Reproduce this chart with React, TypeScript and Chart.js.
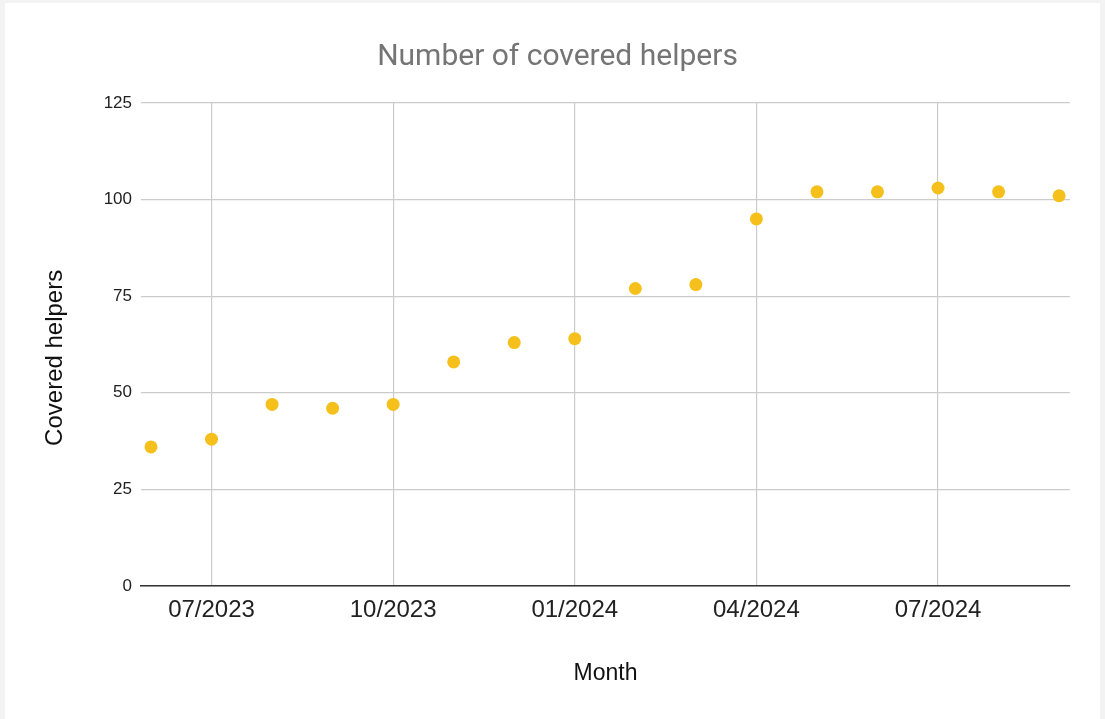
import React, { useEffect, useRef } from "react";
import { Chart, registerables } from "chart.js";

Chart.register(...registerables);

const months = [
  "06/2023", "07/2023", "08/2023", "09/2023", "10/2023", "11/2023", "12/2023", "01/2024",
  "02/2024", "03/2024", "04/2024", "05/2024", "06/2024", "07/2024", "08/2024", "09/2024",
];
const coveredHelpers = [36, 38, 47, 46, 47, 58, 63, 64, 77, 78, 95, 102, 102, 103, 102, 101];
const xTickLabels = ["07/2023", "10/2023", "01/2024", "04/2024", "07/2024"];
const yTicks = [0, 25, 50, 75, 100, 125];

export default function App() {
  const ref = useRef<HTMLCanvasElement>(null);

  useEffect(() => {
    if (!ref.current) return;
    const points = coveredHelpers.map((v, i) => ({ x: i, y: v }));
    const tickIdx = xTickLabels.map((l) => months.indexOf(l));
    const chart = new Chart(ref.current, {
      type: "scatter",
      data: {
        datasets: [
          {
            label: "Covered helpers",
            data: points,
            backgroundColor: "#f6c01c",
            borderColor: "#f6c01c",
            pointRadius: 6.5,
            pointHoverRadius: 6.5,
            borderWidth: 0,
          },
        ],
      },
      options: {
        animation: false,
        responsive: false,
        layout: { padding: { left: 40, right: 30, top: 0, bottom: 0 } },
        plugins: {
          legend: { display: false },
          tooltip: { enabled: false },
          title: {
            display: true,
            text: "Number of covered helpers",
            color: "#757575",
            font: { family: "Roboto", size: 30, weight: "normal" },
            padding: { top: 36.5, bottom: 27.5 },
          },
        },
        scales: {
          x: {
            type: "linear",
            min: -0.165,
            max: 15.18,
            afterBuildTicks: (scale: any) => {
              scale.ticks = tickIdx.map((v) => ({ value: v }));
            },
            afterFit: (scale: any) => {
              scale.height = 133;
            },
            ticks: {
              autoSkip: false,
              maxRotation: 0,
              padding: 10,
              color: "#222",
              font: { family: "Liberation Sans", size: 24 },
              callback: (value: any) => {
                const i = tickIdx.indexOf(Number(value));
                return i >= 0 ? xTickLabels[i] : "";
              },
            },
            grid: { color: "#cccccc", lineWidth: 1.2, drawTicks: false },
            border: { display: true, color: "#333333", width: 1.6 },
            title: {
              display: true,
              text: "Month",
              color: "#111",
              font: { family: "Liberation Sans", size: 23 },
              padding: { top: 0, bottom: 32 },
            },
          },
          y: {
            min: 0,
            max: 125,
            afterBuildTicks: (scale: any) => {
              scale.ticks = yTicks.map((v) => ({ value: v }));
            },
            afterFit: (scale: any) => {
              scale.width = 96;
            },
            ticks: {
              padding: 9,
              color: "#222",
              font: { family: "Liberation Sans", size: 17 },
            },
            grid: { color: "#cccccc", lineWidth: 1.2, drawTicks: false },
            border: { display: false },
            title: {
              display: true,
              text: "Covered helpers    ",
              color: "#111",
              font: { family: "Liberation Sans", size: 24 },
              padding: { top: -4.4, bottom: 0 },
            },
          },
        },
      },
    });
    return () => chart.destroy();
  }, []);

  return (
    <div style={{ position: "fixed", inset: 0, background: "#f3f3f4" }}>
      <div
        style={{
          position: "absolute",
          left: 5,
          top: 3,
          width: 1095,
          height: 716,
          background: "#ffffff",
        }}
      >
        <canvas ref={ref} width={1095} height={716} style={{ display: "block" }} />
      </div>
    </div>
  );
}
